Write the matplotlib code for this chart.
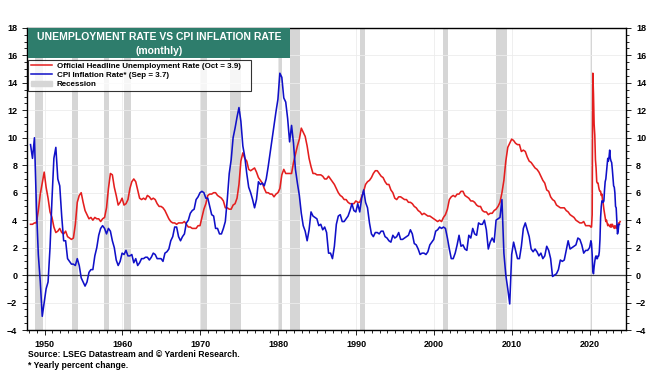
import numpy as np
import pandas as pd
import matplotlib
matplotlib.use("Agg")
import matplotlib.pyplot as plt
from matplotlib.ticker import MultipleLocator
import matplotlib.dates as mdates
from matplotlib.lines import Line2D
from matplotlib.patches import Patch, Rectangle

plt.rcParams['font.family'] = ['Liberation Sans', 'DejaVu Sans']

# Quarterly values 1948Q1 - 2019Q4
unemp_q = [
    3.7, 3.7, 3.8, 3.8,  4.7, 5.9, 6.7, 7.5,  6.4, 5.6, 4.6, 4.2,  3.5, 3.1, 3.2, 3.4,
    3.1, 3.0, 3.2, 2.8,  2.7, 2.6, 2.7, 3.7,  5.3, 5.8, 6.0, 5.3,  4.7, 4.4, 4.1, 4.2,
    4.0, 4.2, 4.1, 4.1,  3.9, 4.1, 4.2, 4.9,  6.3, 7.4, 7.3, 6.4,  5.8, 5.1, 5.3, 5.6,
    5.1, 5.2, 5.5, 6.3,  6.8, 7.0, 6.8, 6.2,  5.6, 5.5, 5.6, 5.5,  5.8, 5.7, 5.5, 5.6,
    5.5, 5.2, 5.0, 5.0,  4.9, 4.7, 4.4, 4.1,  3.9, 3.8, 3.8, 3.7,  3.8, 3.8, 3.8, 3.9,
    3.7, 3.5, 3.5, 3.4,  3.4, 3.4, 3.6, 3.6,  4.2, 4.8, 5.2, 5.8,  5.9, 5.9, 6.0, 6.0,
    5.8, 5.7, 5.6, 5.4,  4.9, 4.9, 4.8, 4.8,  5.1, 5.2, 5.6, 6.6,  8.3, 8.9, 8.5, 8.3,
    7.7, 7.6, 7.7, 7.8,  7.5, 7.1, 6.9, 6.7,  6.3, 6.0, 6.0, 5.9,  5.9, 5.7, 5.9, 6.0,
    6.3, 7.3, 7.7, 7.4,  7.4, 7.4, 7.4, 8.2,  8.8, 9.4, 9.9, 10.7, 10.4, 10.1, 9.4, 8.5,
    7.9, 7.4, 7.4, 7.3,  7.3, 7.3, 7.2, 7.0,  7.0, 7.2, 7.0, 6.8,  6.6, 6.3, 6.0, 5.8,
    5.7, 5.5, 5.5, 5.3,  5.2, 5.2, 5.2, 5.4,  5.3, 5.3, 5.7, 6.1,  6.6, 6.8, 6.9, 7.1,
    7.4, 7.6, 7.6, 7.4,  7.2, 7.1, 6.8, 6.6,  6.6, 6.2, 6.0, 5.6,  5.5, 5.7, 5.7, 5.6,
    5.5, 5.5, 5.3, 5.3,  5.2, 5.0, 4.9, 4.7,  4.6, 4.4, 4.5, 4.4,  4.3, 4.3, 4.2, 4.1,
    4.0, 3.9, 4.0, 3.9,  4.2, 4.4, 4.8, 5.5,  5.7, 5.8, 5.7, 5.9,  5.9, 6.1, 6.1, 5.8,
    5.7, 5.6, 5.4, 5.4,  5.3, 5.1, 5.0, 5.0,  4.7, 4.6, 4.6, 4.4,  4.5, 4.5, 4.7, 4.8,
    5.0, 5.3, 6.0, 6.9,  8.3, 9.3, 9.6, 9.9,  9.8, 9.6, 9.5, 9.5,  9.0, 9.1, 9.0, 8.6,
    8.3, 8.2, 8.0, 7.8,  7.7, 7.5, 7.2, 6.9,  6.7, 6.2, 6.1, 5.7,  5.5, 5.4, 5.1, 5.0,
    4.9, 4.9, 4.9, 4.7,  4.6, 4.4, 4.3, 4.2,  4.0, 3.9, 3.8, 3.8,  3.9, 3.6, 3.6, 3.6,
]
cpi_q = [
    9.5, 8.5, 10.0, 5.0,  1.5, -0.5, -3.0, -2.0,  -1.0, -0.5, 2.0, 5.5,  8.5, 9.3, 7.0, 6.5,
    4.3, 2.5, 2.5, 1.2,  1.0, 0.8, 0.8, 0.7,  1.2, 0.7, -0.2, -0.5,  -0.8, -0.5, 0.2, 0.4,
    0.4, 1.4, 2.0, 2.9,  3.4, 3.6, 3.4, 3.0,  3.4, 3.2, 2.5, 2.0,  1.1, 0.7, 1.0, 1.6,
    1.5, 1.8, 1.4, 1.4,  1.5, 0.9, 1.2, 0.7,  0.9, 1.2, 1.2, 1.3,  1.3, 1.1, 1.3, 1.6,
    1.5, 1.2, 1.2, 1.2,  1.0, 1.6, 1.7, 1.9,  2.5, 2.8, 3.5, 3.5,  2.8, 2.5, 2.8, 3.0,
    3.8, 4.0, 4.5, 4.7,  4.8, 5.5, 5.7, 6.0,  6.1, 6.0, 5.6, 5.6,  5.0, 4.4, 4.3, 3.4,
    3.4, 3.0, 3.0, 3.4,  3.9, 5.5, 7.4, 8.4,  10.0, 10.7, 11.5, 12.2,  11.2, 9.4, 8.6, 7.4,
    6.4, 6.0, 5.5, 4.9,  5.5, 6.8, 6.6, 6.7,  6.5, 7.0, 7.9, 8.9,  9.9, 10.9, 11.9, 12.8,
    14.7, 14.4, 12.9, 12.6,  11.4, 9.7, 10.9, 9.6,  7.7, 6.7, 5.8, 4.5,  3.6, 3.2, 2.5, 3.3,
    4.6, 4.3, 4.2, 4.1,  3.6, 3.7, 3.3, 3.5,  3.1, 1.6, 1.6, 1.2,  2.1, 3.7, 4.3, 4.4,
    3.9, 3.9, 4.1, 4.3,  4.7, 5.2, 4.7, 4.6,  5.2, 4.6, 5.6, 6.2,  5.3, 4.9, 3.8, 3.0,
    2.8, 3.1, 3.1, 3.0,  3.2, 3.2, 2.8, 2.7,  2.5, 2.4, 2.9, 2.7,  2.8, 3.1, 2.6, 2.6,
    2.7, 2.8, 2.9, 3.3,  3.0, 2.3, 2.2, 1.9,  1.5, 1.6, 1.6, 1.5,  1.7, 2.2, 2.4, 2.6,
    3.2, 3.3, 3.5, 3.4,  3.5, 3.4, 2.7, 1.9,  1.2, 1.2, 1.6, 2.2,  2.9, 2.1, 2.2, 1.9,
    1.8, 2.9, 2.7, 3.4,  3.0, 2.9, 3.8, 3.7,  3.7, 4.0, 3.3, 1.9,  2.4, 2.7, 2.4, 4.0,
    4.1, 4.2, 5.5, 1.6,  0.0, -1.0, -2.1, 1.5,  2.4, 1.8, 1.2, 1.2,  2.1, 3.4, 3.8, 3.3,
    2.8, 1.9, 1.7, 1.9,  1.7, 1.4, 1.6, 1.2,  1.4, 2.1, 1.8, 1.2,  -0.1, 0.0, 0.1, 0.4,
    1.1, 1.0, 1.1, 1.8,  2.5, 1.9, 2.0, 2.1,  2.2, 2.7, 2.6, 2.2,  1.6, 1.8, 1.8, 2.0,
]
# Monthly values 2020-01 onward
unemp_m = [
    3.5, 3.5, 4.4, 14.7, 13.2, 11.0, 10.2, 8.4, 7.8, 6.8, 6.7, 6.7,
    6.4, 6.2, 6.1, 6.1, 5.8, 5.9, 5.4, 5.2, 4.8, 4.5, 4.2, 3.9,
    4.0, 3.8, 3.6, 3.7, 3.6, 3.6, 3.5, 3.7, 3.5, 3.7, 3.6, 3.5,
    3.4, 3.6, 3.5, 3.4, 3.7, 3.6, 3.5, 3.8, 3.8, 3.9,
]
cpi_m = [
    2.5, 2.3, 1.5, 0.3, 0.1, 0.6, 1.0, 1.3, 1.4, 1.2, 1.2, 1.4,
    1.4, 1.7, 2.6, 4.2, 5.0, 5.4, 5.4, 5.3, 5.4, 6.2, 6.8, 7.0,
    7.5, 7.9, 8.5, 8.3, 8.6, 9.1, 8.5, 8.3, 8.2, 7.7, 7.1, 6.5,
    6.4, 6.0, 5.0, 4.9, 4.0, 3.0, 3.2, 3.7, 3.7,
]
recessions = [
    ("1948-11", "1949-10"), ("1953-07", "1954-05"), ("1957-08", "1958-04"),
    ("1960-04", "1961-02"), ("1969-12", "1970-11"), ("1973-11", "1975-03"),
    ("1980-01", "1980-07"), ("1981-07", "1982-11"), ("1990-07", "1991-03"),
    ("2001-03", "2001-11"), ("2007-12", "2009-06"), ("2020-02", "2020-04"),
]
title_lines = ["UNEMPLOYMENT RATE VS CPI INFLATION RATE", "(monthly)"]
legend_labels = ["Official Headline Unemployment Rate (Oct = 3.9)",
                 "CPI Inflation Rate* (Sep = 3.7)",
                 "Recession"]

q_dates = pd.date_range("1948-02-15", periods=len(unemp_q), freq="3MS") + pd.Timedelta(days=14)
m_dates_u = pd.date_range("2020-01-15", periods=len(unemp_m), freq="MS") + pd.Timedelta(days=14)
m_dates_c = pd.date_range("2020-01-15", periods=len(cpi_m), freq="MS") + pd.Timedelta(days=14)
u_dates = list(q_dates) + list(m_dates_u)
c_dates = list(q_dates) + list(m_dates_c)
u_vals = unemp_q + unemp_m
c_vals = cpi_q + cpi_m

RED = "#e41e1e"
BLUE = "#1010c8"
GREY = "#d6d6d6"

fig = plt.figure(figsize=(6.55, 3.82), dpi=100)
ax = fig.add_axes([0.0412, 0.136, 0.915, 0.791])

for s, e in recessions:
    ax.axvspan(pd.Timestamp(s), pd.Timestamp(e), color=GREY, lw=0, zorder=1)

ax.plot(u_dates, u_vals, color=RED, lw=1.15, zorder=3)
ax.plot(c_dates, c_vals, color=BLUE, lw=1.15, zorder=3)
ax.axhline(0, color="#444444", lw=0.9, zorder=2)

ax.set_xlim(pd.Timestamp("1947-10-01"), pd.Timestamp("2024-09-01"))
ax.set_ylim(-4, 18)
ax.yaxis.set_major_locator(MultipleLocator(2))
ax.yaxis.set_minor_locator(MultipleLocator(0.5))
ax.xaxis.set_major_locator(mdates.YearLocator(10))
ax.xaxis.set_minor_locator(mdates.YearLocator(1))
ax.xaxis.set_major_formatter(mdates.DateFormatter("%Y"))
ax.grid(True, which="major", color="#ececec", lw=0.6, zorder=0)
ax.tick_params(axis="both", which="both", direction="out", labelsize=6.5, length=2.5, width=0.6)
ax.tick_params(axis="both", which="major", length=3.5)
ax.tick_params(axis="y", which="both", right=True, labelright=True)
for lab in ax.get_xticklabels() + ax.get_yticklabels():
    lab.set_fontweight("bold")
for sp in ax.spines.values():
    sp.set_linewidth(1.0)

# Title box
ax.add_patch(Rectangle((0.0017, 0.9007), 0.437, 0.0993, transform=ax.transAxes,
                       fc="#2e7d6c", ec="none", zorder=6))
ax.text(0.2205, 0.970, title_lines[0], transform=ax.transAxes, ha="center", va="center",
        color="white", fontsize=7.5, fontweight="bold", zorder=7)
ax.text(0.2205, 0.924, title_lines[1], transform=ax.transAxes, ha="center", va="center",
        color="white", fontsize=7.5, fontweight="bold", zorder=7)

# Legend
handles = [Line2D([], [], color=RED, lw=1.1),
           Line2D([], [], color=BLUE, lw=1.1),
           Patch(color=GREY)]
leg = ax.legend(handles, legend_labels, loc="upper left",
                bbox_to_anchor=(0.0017, 0.795, 0.372, 0.1), mode="expand",
                fontsize=5.8, frameon=True, fancybox=False, edgecolor="black",
                borderpad=0.35, labelspacing=0.18, handlelength=2.6, handletextpad=0.6,
                borderaxespad=0.0)
leg.get_frame().set_linewidth(0.8)
for t in leg.get_texts():
    t.set_fontweight("bold")
leg.set_zorder(7)

fig.text(0.043, 0.073, "Source: LSEG Datastream and \u00a9 Yardeni Research.",
         fontsize=6.2, fontweight="bold", ha="left", va="center")
fig.text(0.043, 0.042, "* Yearly percent change.",
         fontsize=6.2, fontweight="bold", ha="left", va="center")

fig.savefig("out.png", dpi=100)
